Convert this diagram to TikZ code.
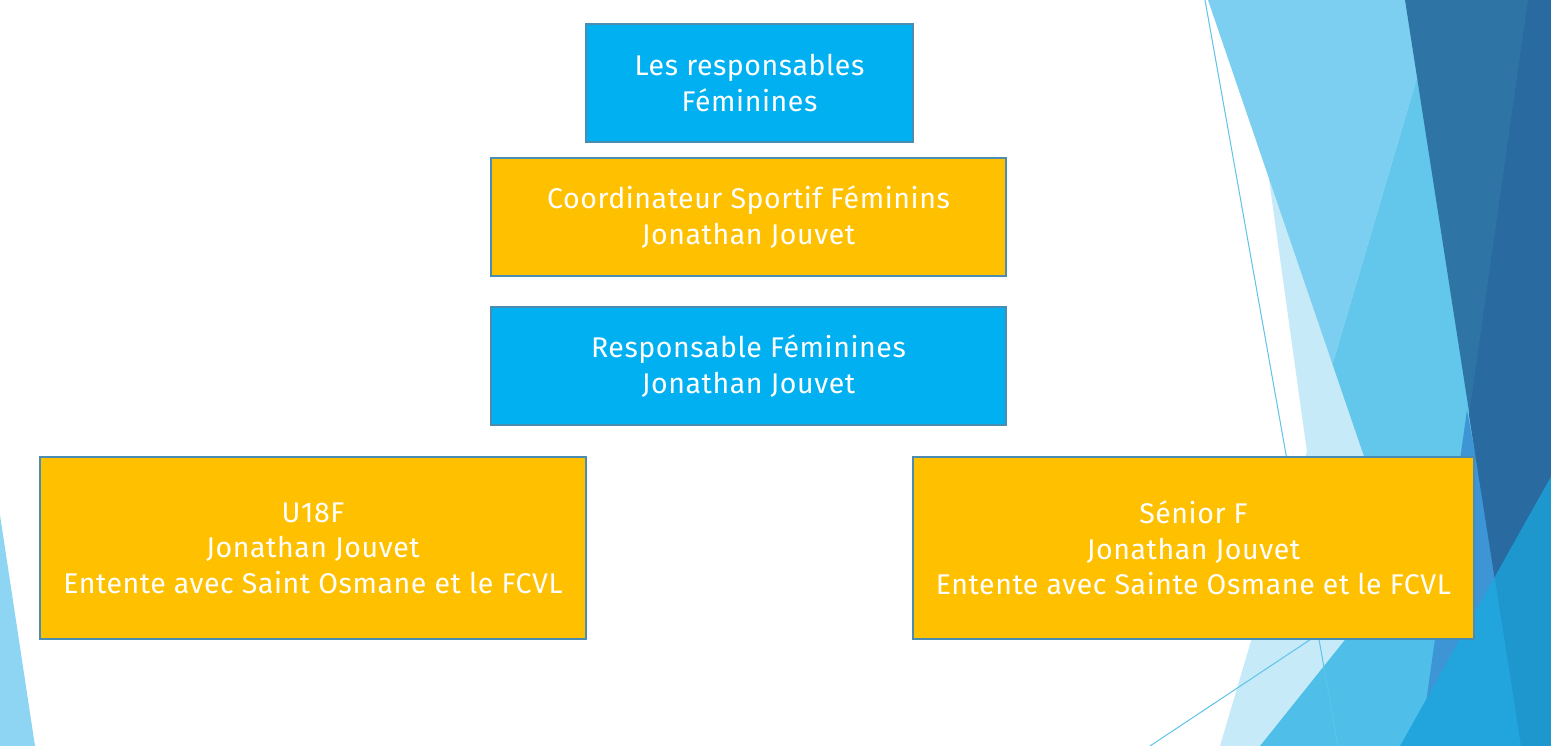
\documentclass[tikz,border=0pt]{standalone}
\usepackage{fontspec}
\setmainfont[LetterSpace=2]{Fira Sans}
\definecolor{boxblue}{HTML}{00B0F0}
\definecolor{boxgold}{HTML}{FFC000}
\definecolor{boxedge}{HTML}{4A8DB0}
\definecolor{pale}{HTML}{C7EAF9}
\definecolor{lightb}{HTML}{7CCFF0}
\definecolor{medb}{HTML}{63C6EB}
\definecolor{medc}{HTML}{4FBFE9}
\definecolor{wedge}{HTML}{3D95D6}
\definecolor{darka}{HTML}{2E75A6}
\definecolor{darkb}{HTML}{296AA0}
\definecolor{brighta}{HTML}{22A5DD}
\definecolor{brightb}{HTML}{1D97CE}
\definecolor{leftb}{HTML}{8DD5F2}
\definecolor{thinline}{HTML}{5DC3EA}
\tikzset{
  orgbox/.style={draw=boxedge, line width=2.4pt, align=center, text=white,
    font=\fontsize{28.5}{35.5}\selectfont, inner sep=0pt},
  bluebox/.style={orgbox, fill=boxblue},
  goldbox/.style={orgbox, fill=boxgold},
  facet/.style={line width=1pt, draw=thinline}
}
\begin{document}
\begin{tikzpicture}[x=1pt,y=-1pt]
\useasboundingbox (0,0) rectangle (1551,746);
\clip (0,0) rectangle (1551,746);
\fill[white] (0,0) rectangle (1551,746);
% background facets
\fill[pale] (1244,0) -- (1551,0) -- (1551,746) -- (1348,746) -- cycle;
\fill[lightb] (1208,0) -- (1551,0) -- (1551,746) -- (1463,746) -- cycle;
\fill[pale] (1440,0) -- (1551,0) -- (1551,746) -- (1220,746) -- cycle;
\begin{scope}
  \clip (1208,0) -- (1551,0) -- (1551,746) -- (1463,746) -- cycle;
  \fill[medb] (1440,0) -- (1551,0) -- (1551,746) -- (1220,746) -- cycle;
\end{scope}
\fill[medc] (1260,746) -- (1500,446) -- (1551,446) -- (1551,746) -- cycle;
\fill[wedge] (1467,410) -- (1530,746) -- (1420,746) -- cycle;
\fill[darka] (1405,0) -- (1551,0) -- (1551,746) -- (1521,746) -- cycle;
\fill[darkb] (1528,0) -- (1551,0) -- (1551,746) -- (1521,746) -- (1469,415) -- cycle;
\fill[brighta] (1551,477) -- (1551,746) -- (1400,746) -- cycle;
\begin{scope}
  \clip (1405,0) -- (1551,0) -- (1551,746) -- (1521,746) -- cycle;
  \fill[brightb] (1551,477) -- (1551,746) -- (1400,746) -- cycle;
\end{scope}
\fill[leftb] (0,515) -- (35,746) -- (0,746) -- cycle;
\draw[facet] (1205,0) -- (1338,746);
\draw[facet] (1150,746) -- (1400,580);
% boxes
\node[bluebox, minimum width=327pt, minimum height=118pt] (resp) at (749.5,83)
  {Les responsables\\Féminines};
\node[goldbox, minimum width=515pt, minimum height=118pt] (coord) at (748.5,217)
  {Coordinateur Sportif Féminins\\Jonathan Jouvet};
\node[bluebox, minimum width=515pt, minimum height=118pt] (respf) at (748.5,366)
  {Responsable Féminines\\Jonathan Jouvet};
\node[goldbox, minimum width=546pt, minimum height=182pt] (u18) at (313,548)
  {U18F\\Jonathan Jouvet\\Entente avec Saint Osmane et le FCVL};
\node[goldbox, minimum width=561pt, minimum height=182pt] (senior) at (1193.5,548)
  {Sénior F\\Jonathan Jouvet\\Entente avec Sainte Osmane et le FCVL};
\end{tikzpicture}
\end{document}
